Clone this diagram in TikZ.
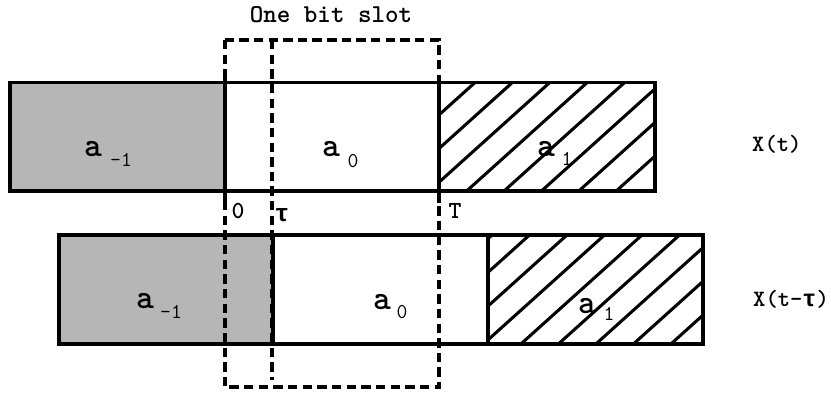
\documentclass[tikz,border=0pt]{standalone}
\usepackage{fontspec}
\newfontfamily\taufnt{Liberation Mono}
\definecolor{stipple}{RGB}{182,182,182}
\begin{document}
\begin{tikzpicture}[x=0.03cm,y=-0.03cm,
  rowbox/.style={draw=black, line width=3pt},
  divider/.style={draw=black, line width=3pt},
  slotbox/.style={draw=black, line width=3pt, dash pattern=on 8pt off 4.5pt},
  hatchline/.style={draw=black, line width=2.6pt},
  grayfill/.style={fill=stipple},
  abig/.style={inner sep=0pt, font=\ttfamily\bfseries\fontsize{29pt}{29pt}\selectfont},
  asub/.style={inner sep=0pt, font=\ttfamily\fontsize{18pt}{18pt}\selectfont},
  ticklbl/.style={inner sep=0pt, font=\ttfamily\bfseries\fontsize{21pt}{21pt}\selectfont},
  sig/.style={inner sep=0pt, anchor=base west, font=\ttfamily\bfseries\fontsize{20pt}{20pt}\selectfont},
  title/.style={inner sep=0pt, font=\ttfamily\bfseries\fontsize{22pt}{22pt}\selectfont}]
\useasboundingbox (0,0) rectangle (831,396);
\fill[white] (0,0) rectangle (831,396);

% ---- top row X(t)
\fill[grayfill] (10,82.5) rectangle (225,191);
\begin{scope}
  \clip (439,82.5) rectangle (655,191);
  \foreach \k in {-1,...,8} {
    \draw[hatchline] ({475+37.4*\k+60},{82.5-54}) -- ({475+37.4*\k-180},{82.5+162});
  }
\end{scope}
\draw[rowbox] (10,82.5) rectangle (655,191);
\draw[divider] (225,76) -- (225,203);
\draw[divider] (439,76) -- (439,203);

% ---- bottom row X(t-tau)
\fill[grayfill] (59,235) rectangle (273,344);
\begin{scope}
  \clip (488,235) rectangle (703,344);
  \foreach \k in {-1,...,9} {
    \draw[hatchline] ({492+37.5*\k+60},{235-54}) -- ({492+37.5*\k-180},{235+162});
  }
\end{scope}
\draw[rowbox] (59,235) rectangle (703,344);
\draw[divider] (273,235) -- (273,344);
\draw[divider] (488,235) -- (488,344);

% ---- one bit slot (dashed)
\draw[slotbox] (225,40) rectangle (439,387);
\draw[slotbox] (272,40) -- (272,380);

% ---- labels
\node[title] (slot) at (331,15) {One bit slot};

\node[abig] (am1t) at (93,149) {a};
\node[asub] (am1ts) at (121,160) {–1};
\node[abig] (a0t) at (331,149) {a};
\node[asub] (a0ts) at (353,161) {0};
\node[abig] (a1t) at (546,149.5) {a};
\node[asub] (a1ts) at (567,159) {1};

\node[abig] (am1b) at (145,301) {a};
\node[asub] (am1bs) at (171,312) {–1};
\node[abig] (a0b) at (382,302) {a};
\node[asub] (a0bs) at (402,312) {0};
\node[abig] (a1b) at (587,306) {a};
\node[asub] (a1bs) at (609,314) {1};

\node[ticklbl] (zero) at (238,211) {0};
\node[ticklbl] (tau) at (282,215) {\taufnt\bfseries τ};
\node[ticklbl] (bigT) at (455,211) {T};

\node[sig] (xt) at (752,151) {X(t)};
\node[sig] (xtt) at (753,306) {X(t–{\taufnt τ})};
\end{tikzpicture}
\end{document}
